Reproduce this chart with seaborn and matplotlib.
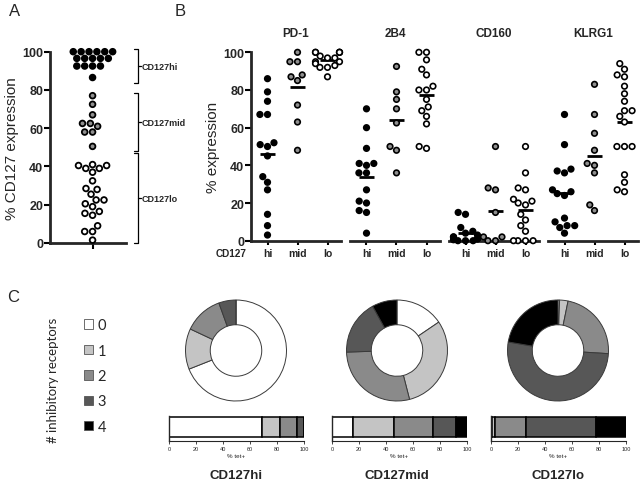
import matplotlib
matplotlib.use("Agg")
import matplotlib.pyplot as plt
import numpy as np
import pandas as pd
import seaborn as sns
from matplotlib.patches import Patch

# ---- panel A: % CD127 expression per subset
A_HI = [100, 100, 100, 100, 100, 100, 96.5, 96.5, 96.5, 96.5, 96.5, 92.5, 92.5, 92.5, 92.5, 86.5]
A_MID = [77, 72.5, 67, 62.5, 62.5, 61, 58, 58, 50.5]
A_LO = [41, 40.5, 40.5, 39, 39, 37, 32.5, 28.5, 28, 25.5, 22.5, 22.5, 20.5, 19, 16.5,
        15.5, 14.5, 9, 6, 6, 1.5]
BRACKETS = [("CD127hi", 101.5, 83.5), ("CD127mid", 78.5, 48), ("CD127lo", 47, 0)]

# ---- panel B: % expression of each receptor by CD127 subset
SUBSETS = ["hi", "mid", "lo"]
RECEPTORS = ["PD-1", "2B4", "CD160", "KLRG1"]
PD1_HI = [86, 79, 74, 67, 67, 52, 51, 50, 45, 34, 31, 27, 14, 8, 3]
PD1_MID = [100, 95, 95, 88, 87, 85, 72, 63, 48]
PD1_LO = [100, 100, 100, 100, 100, 98, 97, 97, 95, 95, 94, 93, 92, 92, 87]
B4_HI = [70, 60, 49, 41, 41, 40, 36, 36, 27, 21, 20, 16, 15, 4]
B4_MID = [92.5, 79, 75, 70, 62.5, 50, 48, 36]
B4_LO = [100, 100, 96, 91, 88, 82, 80, 80, 75, 71, 69, 66, 62, 50, 49]
CD160_HI = [15, 14, 7, 5, 4, 3, 2, 2, 1, 1, 0.5, 0, 0, 0]
CD160_MID = [50, 28, 27, 15, 2, 2, 0, 0]
CD160_LO = [50, 36, 28, 27, 22, 21, 20, 19, 14, 11, 8, 5, 0, 0, 0, 0]
KLRG1_HI = [67, 51, 38, 37, 36, 27, 26, 25, 24, 12, 10, 8, 8, 7, 4]
KLRG1_MID = [83, 67, 57, 48, 41, 40, 36, 19, 16]
KLRG1_LO = [94, 91, 88, 87, 82, 78, 74, 69, 69, 66, 63, 50, 50, 50, 35, 31, 27, 26]

# ---- panel C: fraction of tet+ cells by number of inhibitory receptors
N_RECEPTORS = ["0", "1", "2", "3", "4"]
C_GROUPS = ["CD127hi", "CD127mid", "CD127lo"]
C_HI = [69, 13, 12.5, 5.5, 0]
C_MID = [15.5, 30.5, 28.5, 17.5, 8]
C_LO = [0.5, 2.7, 22.8, 51.7, 22.3]

SUBSET_COLORS = {"hi": "black", "mid": "#8f8f8f", "lo": "white"}
NREC_COLORS = ["white", "#c4c4c4", "#8a8a8a", "#575757", "black"]

W, H = 642, 485


def rect(l, t, r, b):
    return [l / W, 1 - b / H, (r - l) / W, (b - t) / H]


sns.set_style("ticks")
plt.rcParams["font.family"] = ["Liberation Sans", "DejaVu Sans"]

fig = plt.figure(figsize=(W / 100, H / 100), dpi=100)


def style_scatter_axis(ax, show_y):
    ax.set_ylim(0, 100)
    sns.despine(ax=ax, left=not show_y)
    for s in ["left", "bottom"]:
        ax.spines[s].set_linewidth(2)
    ax.tick_params(axis="both", direction="out", width=1.5, length=4, color="black", pad=1)
    if show_y:
        ticks = list(range(0, 101, 20))
        ax.set_yticks(ticks, labels=[str(t) for t in ticks], fontsize=9, fontweight="bold")
    else:
        ax.set_yticks([])
    for coll in ax.collections:
        coll.set_clip_on(False)


# ---------------- panel A
dfA = pd.DataFrame({
    "val": A_HI + A_MID + A_LO,
    "grp": ["hi"] * len(A_HI) + ["mid"] * len(A_MID) + ["lo"] * len(A_LO),
})
dfA["x"] = ""
axA = fig.add_axes(rect(50, 52.7, 126, 244))
sns.swarmplot(data=dfA, x="x", y="val", hue="grp", hue_order=SUBSETS,
              palette=SUBSET_COLORS, size=4.1, linewidth=1.3, edgecolor="black",
              legend=False, warn_thresh=1, ax=axA)
axA.set_xlim(-0.56, 0.44)
axA.set_xticks([0])
axA.set_xticklabels([])
axA.set_xlabel("")
axA.set_ylabel("% CD127 expression", fontsize=11, labelpad=2)
style_scatter_axis(axA, True)

for label, top, bot in BRACKETS:
    x0, x1, x2 = 0.545, 0.6, 0.635
    axA.plot([x0, x1, x1, x0], [top, top, bot, bot], color="black", lw=0.9, clip_on=False)
    mid = (top + bot) / 2
    axA.plot([x1, x2], [mid, mid], color="black", lw=0.9, clip_on=False)
    axA.text(x2 + 0.01, mid, label, fontsize=6.5, fontweight="bold", va="center", ha="left")

# ---------------- panel B
receptor_data = [
    (PD1_HI, PD1_MID, PD1_LO),
    (B4_HI, B4_MID, B4_LO),
    (CD160_HI, CD160_MID, CD160_LO),
    (KLRG1_HI, KLRG1_MID, KLRG1_LO),
]
lefts = [251, 350, 449, 548]
for i, (name, groups) in enumerate(zip(RECEPTORS, receptor_data)):
    df = pd.DataFrame({
        "val": sum(groups, []),
        "grp": sum([[s] * len(g) for s, g in zip(SUBSETS, groups)], []),
    })
    ax = fig.add_axes(rect(lefts[i], 53.3, lefts[i] + 90, 241.7))
    sns.swarmplot(data=df, x="grp", y="val", hue="grp", order=SUBSETS, hue_order=SUBSETS,
                  palette=SUBSET_COLORS, size=4.0, linewidth=1.2, edgecolor="black",
                  legend=False, warn_thresh=1, ax=ax)
    for j, g in enumerate(groups):
        m = np.mean(g)
        ax.plot([j - 0.26, j + 0.26], [m, m], color="black", lw=2, solid_capstyle="butt")
    ax.set_xlim(-0.55, 2.45)
    ax.set_xlabel("")
    ax.set_ylabel("")
    style_scatter_axis(ax, i == 0)
    ax.set_xticks(range(3), labels=SUBSETS, fontsize=7.5, fontweight="bold")
    ax.tick_params(axis="x", length=3, pad=2)
    ax.set_title(name, fontsize=8.5, fontweight="bold", pad=12)
    if i == 0:
        ax.set_ylabel("% expression", fontsize=11, labelpad=2)

fig.text(247 / W, 1 - 254 / H, "CD127", fontsize=7.2, fontweight="bold", ha="right", va="center")

# ---------------- panel C
for c, share, cx, bl in zip(C_GROUPS, [C_HI, C_MID, C_LO], [236, 397, 558], [169, 332, 491]):
    r = 51.5
    axp = fig.add_axes(rect(cx - r, 351.5 - r, cx + r, 351.5 + r))
    axp.pie(share, colors=NREC_COLORS, startangle=90, counterclock=False,
            wedgeprops=dict(width=0.49, edgecolor="#3a3a3a", linewidth=0.7))
    axp.set_xlim(-1.02, 1.02)
    axp.set_ylim(-1.02, 1.02)
    axp.set_aspect("equal")

    axb = fig.add_axes(rect(bl, 416.5, bl + 135, 441.7))
    left = 0
    for v, col in zip(share, NREC_COLORS):
        axb.barh(0, v, left=left, height=0.8, color=col, edgecolor="black", linewidth=1.1)
        left += v
    axb.set_xlim(0, 100)
    axb.set_ylim(-0.56, 0.46)
    axb.set_yticks([])
    axb.set_xticks(range(0, 101, 20))
    axb.tick_params(axis="x", labelsize=4, length=2, width=0.6, pad=1.5, direction="out")
    sns.despine(ax=axb)
    axb.spines["left"].set_linewidth(1)
    axb.spines["bottom"].set_linewidth(0.8)
    axb.set_xlabel("% tet+", fontsize=4.5, labelpad=2)
    fig.text(cx / W, 1 - 476 / H, c, fontsize=9.5, fontweight="bold", ha="center", va="center")

handles = [Patch(facecolor=col, edgecolor="#555555", linewidth=0.6) for col in NREC_COLORS]
fig.legend(handles, N_RECEPTORS, loc="upper left", bbox_to_anchor=(77 / W, 1 - 312 / H),
           frameon=False, prop={"family": "Lato", "size": 10.5}, handlelength=0.62,
           handleheight=0.62, handletextpad=0.3, labelspacing=0.78, borderpad=0)
fig.text(53 / W, 1 - 380 / H, "# inhibitory receptors", rotation=90, fontsize=9.5,
         family="Lato", ha="center", va="center")

# panel letters
fig.text(15 / W, 1 - 11 / H, "A", fontsize=12, ha="center", va="center")
fig.text(180 / W, 1 - 11 / H, "B", fontsize=12, ha="center", va="center")
fig.text(13 / W, 1 - 298 / H, "C", fontsize=12, ha="center", va="center")

fig.savefig("out.png", dpi=100)
